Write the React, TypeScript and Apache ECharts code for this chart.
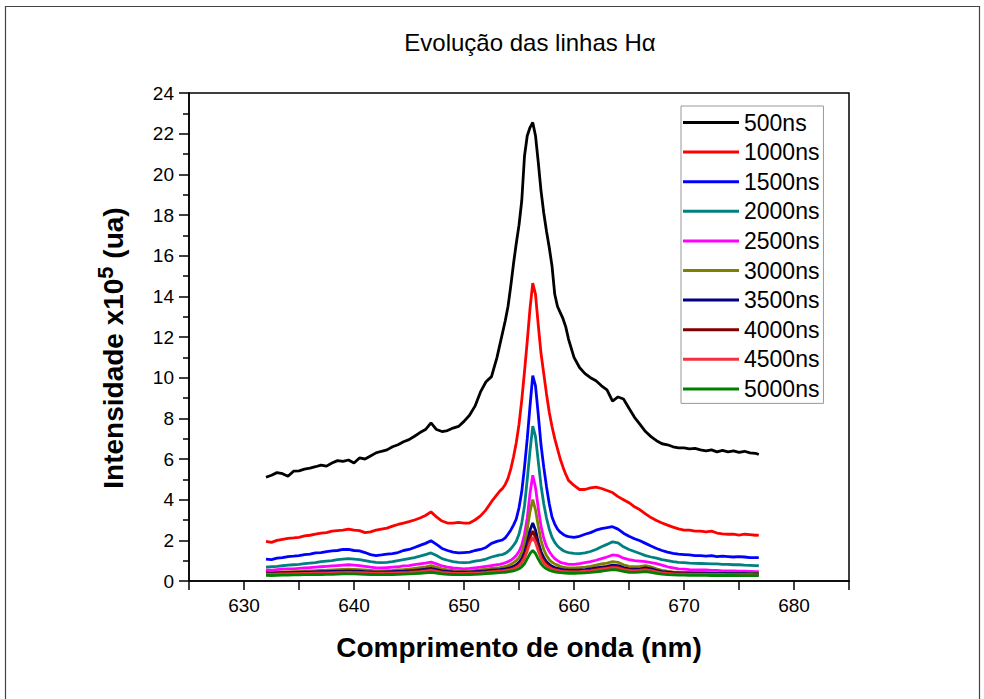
import React, { useEffect, useRef } from "react";
import * as echarts from "echarts";

// Wavelength grid (nm): 0.5 nm steps in the wings, 0.25 nm steps around the Hα line
const wavelengths = [
  632, 632.5, 633, 633.5, 634, 634.5, 635, 635.5, 636, 636.5,
  637, 637.5, 638, 638.5, 639, 639.5, 640, 640.5, 641, 641.5,
  642, 642.5, 643, 643.5, 644, 644.5, 645, 645.5, 646, 646.5,
  647, 647.5, 648, 648.5, 649, 649.5, 650, 650.5, 651, 651.5,
  652, 652.5,
  653, 653.25, 653.5, 653.75, 654, 654.25, 654.5, 654.75, 655, 655.25,
  655.5, 655.75, 656, 656.25, 656.5, 656.75, 657, 657.25, 657.5, 657.75,
  658, 658.25, 658.5, 658.75, 659, 659.25, 659.5,
  660, 660.5, 661, 661.5, 662, 662.5, 663, 663.5, 664, 664.5,
  665, 665.5, 666, 666.5, 667, 667.5, 668, 668.5, 669, 669.5,
  670, 670.5, 671, 671.5, 672, 672.5, 673, 673.5, 674, 674.5,
  675, 675.5, 676, 676.5, 676.8,
];

// Intensity (x10^5 u.a.) for each delay
const i500 = [
  5.1, 5.2, 5.33, 5.28, 5.15, 5.4, 5.42, 5.5, 5.55, 5.62,
  5.7, 5.65, 5.8, 5.92, 5.88, 5.95, 5.8, 6.05, 6.0, 6.15,
  6.3, 6.38, 6.45, 6.6, 6.7, 6.85, 6.95, 7.12, 7.3, 7.45,
  7.78, 7.45, 7.35, 7.4, 7.52, 7.6, 7.85, 8.15, 8.6, 9.3,
  9.8, 10.05,
  11.0, 11.6, 12.2, 12.8, 13.5, 14.5, 15.6, 16.6, 17.5, 18.7,
  20.9, 21.9, 22.3, 22.55, 21.9, 20.6, 19.2, 18.1, 17.2, 16.4,
  15.5, 14.1, 13.5, 13.2, 12.9, 12.5, 11.9,
  11.0, 10.5, 10.2, 10.0, 9.85, 9.6, 9.4, 8.85, 9.05, 8.95,
  8.5, 8.05, 7.7, 7.35, 7.1, 6.9, 6.75, 6.7, 6.6, 6.55,
  6.55, 6.5, 6.52, 6.45, 6.4, 6.45, 6.35, 6.42, 6.35, 6.4,
  6.33, 6.38, 6.3, 6.28, 6.22,
];
const i1000 = [
  1.95, 1.9, 2.0, 2.05, 2.1, 2.12, 2.15, 2.22, 2.25, 2.3,
  2.35, 2.38, 2.45, 2.48, 2.5, 2.55, 2.5, 2.48, 2.38, 2.42,
  2.5, 2.55, 2.6, 2.7, 2.78, 2.85, 2.92, 3.0, 3.1, 3.22,
  3.4, 3.15, 2.95, 2.85, 2.85, 2.88, 2.85, 2.85, 3.0, 3.2,
  3.5, 3.9,
  4.25, 4.42, 4.55, 4.75, 5.05, 5.5, 6.1, 6.8, 7.7, 8.9,
  10.3, 11.8, 13.4, 14.65, 14.1, 12.6, 11.2, 10.2, 9.2, 8.3,
  7.6, 7.0, 6.5, 6.0, 5.6, 5.25, 4.95,
  4.7, 4.5, 4.5, 4.58, 4.62, 4.55, 4.45, 4.35, 4.15, 4.0,
  3.85, 3.65, 3.5, 3.3, 3.12, 2.98, 2.85, 2.75, 2.65, 2.56,
  2.5, 2.5, 2.45, 2.45, 2.42, 2.45, 2.36, 2.32, 2.3, 2.3,
  2.26, 2.3, 2.28, 2.25, 2.26,
];
const i1500 = [
  1.08, 1.05, 1.12, 1.15, 1.2, 1.22, 1.25, 1.3, 1.32, 1.38,
  1.4, 1.45, 1.48, 1.5, 1.55, 1.55, 1.5, 1.48, 1.4, 1.3,
  1.25, 1.28, 1.32, 1.35, 1.4, 1.5, 1.55, 1.65, 1.75, 1.85,
  1.98, 1.8, 1.6, 1.5, 1.42, 1.38, 1.4, 1.42, 1.5, 1.55,
  1.65, 1.85,
  1.95, 1.98, 2.02, 2.12, 2.3, 2.5, 2.75, 3.05, 3.6, 4.4,
  5.6, 7.0, 8.6, 10.1, 9.6, 8.2, 6.7, 5.6, 4.64, 3.8,
  3.15, 2.8, 2.55, 2.4, 2.3, 2.22, 2.18,
  2.15, 2.2, 2.3, 2.38, 2.5, 2.58, 2.62, 2.67, 2.55, 2.35,
  2.2, 2.08, 1.98, 1.85, 1.72, 1.6, 1.5, 1.42, 1.36, 1.32,
  1.3, 1.28, 1.25, 1.25, 1.22, 1.25, 1.2, 1.22, 1.2, 1.18,
  1.2, 1.18, 1.15, 1.15, 1.15,
];
const i2000 = [
  0.68, 0.7, 0.72, 0.75, 0.78, 0.8, 0.82, 0.85, 0.88, 0.9,
  0.95, 0.98, 1.0, 1.05, 1.08, 1.1, 1.08, 1.05, 1.0, 0.95,
  0.92, 0.9, 0.92, 0.95, 1.0, 1.05, 1.1, 1.15, 1.22, 1.3,
  1.38, 1.25, 1.1, 1.02, 0.95, 0.92, 0.9, 0.92, 0.98, 1.02,
  1.08, 1.18,
  1.25, 1.28, 1.3, 1.36, 1.45, 1.58, 1.75, 1.95, 2.3, 2.85,
  3.7, 5.0, 6.4, 7.62, 7.1, 5.9, 4.7, 3.8, 3.1, 2.55,
  2.15, 1.9, 1.72, 1.6, 1.5, 1.44, 1.4,
  1.36, 1.35, 1.38, 1.45, 1.55, 1.68, 1.8, 1.93, 1.88, 1.68,
  1.55, 1.45, 1.35, 1.25, 1.18, 1.12, 1.05, 1.0, 0.95, 0.92,
  0.9, 0.88, 0.87, 0.86, 0.85, 0.84, 0.84, 0.82, 0.82, 0.8,
  0.8, 0.78, 0.77, 0.76, 0.75,
];
const i2500 = [
  0.55, 0.52, 0.56, 0.58, 0.6, 0.6, 0.62, 0.64, 0.66, 0.68,
  0.7, 0.72, 0.74, 0.76, 0.78, 0.8, 0.78, 0.76, 0.72, 0.68,
  0.65, 0.64, 0.66, 0.68, 0.7, 0.74, 0.76, 0.8, 0.84, 0.88,
  0.93, 0.84, 0.74, 0.68, 0.64, 0.62, 0.6, 0.62, 0.65, 0.68,
  0.72, 0.76,
  0.8, 0.82, 0.85, 0.9, 0.95, 1.02, 1.12, 1.25, 1.45, 1.75,
  2.3, 3.1, 4.3, 5.2, 4.6, 3.6, 2.7, 2.1, 1.7, 1.45,
  1.25, 1.1, 1.0, 0.92, 0.88, 0.85, 0.82,
  0.82, 0.85, 0.9, 0.95, 1.02, 1.1, 1.18, 1.28, 1.25, 1.12,
  1.05, 1.0, 0.98, 0.95, 0.9, 0.85, 0.78, 0.7, 0.65, 0.6,
  0.58, 0.56, 0.55, 0.54, 0.54, 0.52, 0.52, 0.5, 0.5, 0.5,
  0.48, 0.48, 0.47, 0.46, 0.46,
];
const i3000 = [
  0.42, 0.4, 0.43, 0.44, 0.45, 0.46, 0.47, 0.48, 0.5, 0.51,
  0.52, 0.53, 0.55, 0.56, 0.57, 0.58, 0.57, 0.56, 0.54, 0.52,
  0.5, 0.5, 0.51, 0.52, 0.54, 0.56, 0.58, 0.62, 0.66, 0.7,
  0.76, 0.68, 0.6, 0.55, 0.52, 0.5, 0.48, 0.5, 0.52, 0.55,
  0.58, 0.62,
  0.65, 0.66, 0.68, 0.72, 0.76, 0.82, 0.9, 1.0, 1.15, 1.4,
  1.85, 2.55, 3.4, 4.0, 3.5, 2.7, 2.0, 1.55, 1.25, 1.05,
  0.92, 0.84, 0.78, 0.72, 0.68, 0.66, 0.64,
  0.64, 0.66, 0.68, 0.72, 0.78, 0.84, 0.88, 0.95, 0.92, 0.8,
  0.72, 0.7, 0.72, 0.76, 0.7, 0.6, 0.52, 0.48, 0.45, 0.43,
  0.42, 0.42, 0.41, 0.41, 0.4, 0.4, 0.4, 0.39, 0.39, 0.39,
  0.38, 0.38, 0.38, 0.38, 0.38,
];
const i3500 = [
  0.4, 0.39, 0.4, 0.41, 0.41, 0.42, 0.42, 0.43, 0.44, 0.45,
  0.46, 0.46, 0.47, 0.48, 0.49, 0.5, 0.49, 0.48, 0.46, 0.45,
  0.44, 0.44, 0.45, 0.46, 0.47, 0.48, 0.5, 0.52, 0.55, 0.58,
  0.62, 0.56, 0.5, 0.47, 0.45, 0.44, 0.43, 0.44, 0.46, 0.48,
  0.5, 0.53,
  0.55, 0.56, 0.58, 0.6, 0.63, 0.67, 0.72, 0.8, 0.92, 1.1,
  1.4, 1.9, 2.5, 2.85, 2.5, 1.9, 1.45, 1.15, 0.95, 0.82,
  0.72, 0.66, 0.62, 0.58, 0.56, 0.54, 0.53,
  0.53, 0.54, 0.56, 0.6, 0.64, 0.68, 0.72, 0.78, 0.76, 0.66,
  0.6, 0.58, 0.6, 0.64, 0.6, 0.52, 0.46, 0.43, 0.41, 0.4,
  0.39, 0.39, 0.38, 0.38, 0.38, 0.37, 0.37, 0.37, 0.36, 0.36,
  0.36, 0.36, 0.35, 0.35, 0.35,
];
const i4000 = [
  0.36, 0.35, 0.36, 0.37, 0.37, 0.38, 0.38, 0.39, 0.4, 0.4,
  0.41, 0.41, 0.42, 0.43, 0.44, 0.45, 0.44, 0.43, 0.42, 0.41,
  0.4, 0.4, 0.41, 0.41, 0.42, 0.43, 0.45, 0.47, 0.5, 0.53,
  0.56, 0.5, 0.45, 0.42, 0.4, 0.39, 0.39, 0.4, 0.41, 0.43,
  0.45, 0.48,
  0.5, 0.51, 0.52, 0.54, 0.57, 0.6, 0.65, 0.72, 0.82, 0.98,
  1.25, 1.65, 2.15, 2.45, 2.15, 1.65, 1.25, 1.0, 0.84, 0.72,
  0.64, 0.59, 0.55, 0.52, 0.5, 0.49, 0.48,
  0.48, 0.49, 0.51, 0.54, 0.58, 0.62, 0.66, 0.71, 0.69, 0.6,
  0.55, 0.53, 0.55, 0.58, 0.54, 0.47, 0.42, 0.39, 0.37, 0.36,
  0.36, 0.35, 0.35, 0.35, 0.34, 0.34, 0.34, 0.34, 0.33, 0.33,
  0.33, 0.33, 0.33, 0.32, 0.32,
];
const i4500 = [
  0.34, 0.33, 0.34, 0.35, 0.35, 0.36, 0.36, 0.37, 0.37, 0.38,
  0.39, 0.39, 0.4, 0.41, 0.41, 0.42, 0.41, 0.41, 0.4, 0.39,
  0.38, 0.38, 0.39, 0.39, 0.4, 0.41, 0.42, 0.44, 0.46, 0.49,
  0.52, 0.47, 0.42, 0.4, 0.38, 0.37, 0.37, 0.38, 0.39, 0.4,
  0.42, 0.45,
  0.47, 0.48, 0.49, 0.51, 0.53, 0.56, 0.6, 0.66, 0.75, 0.9,
  1.12, 1.48, 1.9, 2.15, 1.9, 1.48, 1.12, 0.9, 0.76, 0.66,
  0.59, 0.55, 0.52, 0.49, 0.47, 0.46, 0.45,
  0.45, 0.46, 0.48, 0.5, 0.54, 0.58, 0.62, 0.66, 0.64, 0.56,
  0.52, 0.5, 0.52, 0.55, 0.51, 0.45, 0.4, 0.37, 0.35, 0.34,
  0.34, 0.33, 0.33, 0.33, 0.32, 0.32, 0.32, 0.32, 0.31, 0.31,
  0.31, 0.31, 0.31, 0.3, 0.3,
];
const i5000 = [
  0.28, 0.27, 0.28, 0.29, 0.29, 0.3, 0.3, 0.31, 0.31, 0.32,
  0.32, 0.33, 0.33, 0.34, 0.35, 0.35, 0.35, 0.34, 0.33, 0.32,
  0.32, 0.31, 0.32, 0.32, 0.33, 0.34, 0.35, 0.36, 0.38, 0.4,
  0.43, 0.39, 0.35, 0.33, 0.32, 0.31, 0.31, 0.32, 0.33, 0.34,
  0.36, 0.38,
  0.4, 0.41, 0.42, 0.43, 0.45, 0.47, 0.5, 0.54, 0.6, 0.7,
  0.85, 1.1, 1.35, 1.5, 1.35, 1.08, 0.85, 0.7, 0.6, 0.53,
  0.48, 0.45, 0.43, 0.41, 0.4, 0.39, 0.38,
  0.38, 0.39, 0.4, 0.42, 0.45, 0.48, 0.52, 0.56, 0.54, 0.47,
  0.43, 0.42, 0.44, 0.46, 0.43, 0.38, 0.34, 0.31, 0.3, 0.29,
  0.29, 0.28, 0.28, 0.28, 0.28, 0.27, 0.27, 0.27, 0.27, 0.27,
  0.26, 0.26, 0.26, 0.26, 0.26,
];

const delayNames = [
  "500ns", "1000ns", "1500ns", "2000ns", "2500ns",
  "3000ns", "3500ns", "4000ns", "4500ns", "5000ns",
];
const delayColors = [
  "#000000", "#FF0000", "#0000FF", "#008080", "#FF00FF",
  "#808000", "#000080", "#800000", "#F5303F", "#008000",
];
const delayValues = [i500, i1000, i1500, i2000, i2500, i3000, i3500, i4000, i4500, i5000];

const FONT = '"Liberation Sans", Arial, sans-serif';

export default function App() {
  const ref = useRef<HTMLDivElement>(null);

  useEffect(() => {
    if (!ref.current) return;
    const chart = echarts.init(ref.current, undefined, { renderer: "svg" });

    const series = delayNames.map((name, k) => ({
      name,
      type: "line" as const,
      symbol: "none",
      showSymbol: false,
      data: wavelengths.map((w, i) => [w, delayValues[k][i]]),
      lineStyle: { color: delayColors[k], width: 2.8 },
      itemStyle: { color: delayColors[k] },
      emphasis: { disabled: true },
    }));

    chart.setOption({
      animation: false,
      backgroundColor: "#ffffff",
      grid: {
        left: 189,
        top: 93,
        width: 660,
        height: 488,
        show: true,
        borderColor: "#000",
        borderWidth: 1.5,
        backgroundColor: "transparent",
      },
      xAxis: {
        type: "value",
        min: 625,
        max: 685,
        interval: 5,
        axisLine: { lineStyle: { color: "#000", width: 1.5 } },
        axisTick: { length: 9, lineStyle: { color: "#000", width: 1.5 } },
        axisLabel: {
          formatter: (v: number) => (v % 10 === 0 ? String(v) : ""),
          color: "#000",
          fontFamily: FONT,
          fontSize: 19,
          margin: 15,
        },
        splitLine: { show: false },
      },
      yAxis: {
        type: "value",
        min: 0,
        max: 24,
        interval: 2,
        axisLine: { show: true, lineStyle: { color: "#000", width: 1.5 } },
        axisTick: { show: true, length: 10, lineStyle: { color: "#000", width: 1.5 } },
        minorTick: { show: true, splitNumber: 2, length: 6, lineStyle: { color: "#000", width: 1.5 } },
        axisLabel: { color: "#000", fontFamily: FONT, fontSize: 19, margin: 15 },
        splitLine: { show: false },
        minorSplitLine: { show: false },
      },
      legend: {
        data: delayNames.map((name) => ({ name, icon: "rect" })),
        orient: "vertical",
        left: 681,
        top: 106,
        padding: [5, 4, 3, 2],
        itemWidth: 56,
        itemHeight: 3,
        itemGap: 6.6,
        backgroundColor: "#fff",
        borderColor: "#999",
        borderWidth: 1,
        textStyle: { color: "#000", fontFamily: FONT, fontSize: 23 },
        selectedMode: false,
      },
      graphic: [
        {
          type: "rect",
          silent: true,
          shape: { x: 5.5, y: 6.5, width: 974, height: 740 },
          style: { fill: "none", stroke: "#444", lineWidth: 1.2 },
        },
        {
          type: "text",
          x: 530,
          y: 42,
          style: {
            text: "Evolução das linhas Hα",
            fill: "#000",
            font: `24px ${FONT}`,
            align: "center",
            verticalAlign: "middle",
          },
        },
        {
          type: "text",
          x: 519,
          y: 647,
          style: {
            text: "Comprimento de onda (nm)",
            fill: "#000",
            font: `bold 28px ${FONT}`,
            align: "center",
            verticalAlign: "middle",
          },
        },
        {
          type: "text",
          x: 113,
          y: 348,
          rotation: Math.PI / 2,
          style: {
            text: "{a|Intensidade x10}{b|5}{a| (ua)}",
            fill: "#000",
            align: "center",
            verticalAlign: "middle",
            rich: {
              a: { fontFamily: FONT, fontWeight: "bold", fontSize: 28, lineHeight: 38, fill: "#000" },
              b: { fontFamily: FONT, fontWeight: "bold", fontSize: 22, lineHeight: 38, verticalAlign: "top", fill: "#000" },
            },
          },
        },
      ],
      series,
    });

    return () => chart.dispose();
  }, []);

  return (
    <div
      ref={ref}
      style={{ position: "absolute", left: 0, top: 0, width: 984, height: 699 }}
    />
  );
}
